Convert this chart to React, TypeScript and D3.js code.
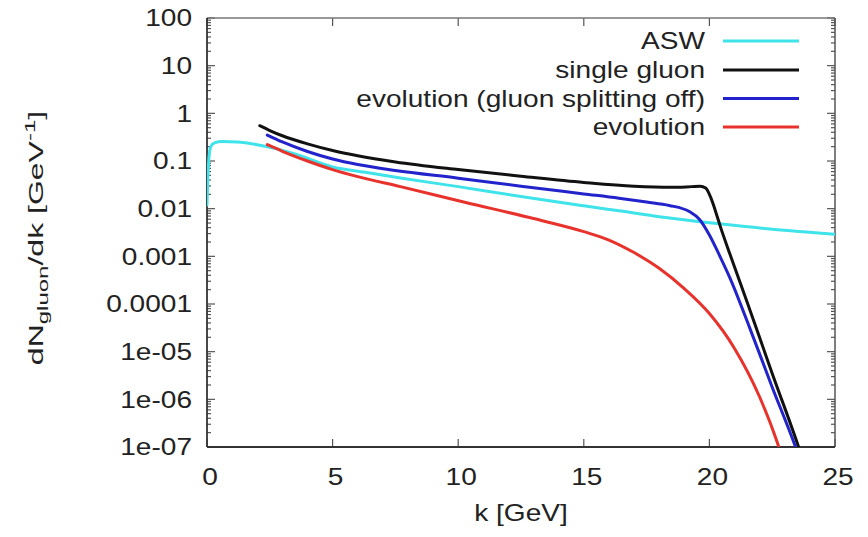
import React from "react";
import * as d3 from "d3";

// values (k in GeV, dN/dk in 1/GeV)
const kASW = [0, 0.03, 0.08, 0.15, 0.3, 0.6, 1.2, 2, 2.6, 3.5, 5, 6.3, 7.7, 10, 12.5, 15, 16.4, 18, 20.4, 22.5, 25];
const vASW = [0.012, 0.04, 0.12, 0.2, 0.24, 0.255, 0.25, 0.22, 0.19, 0.14, 0.075, 0.058, 0.044, 0.029, 0.018, 0.0115, 0.009, 0.0068, 0.0048, 0.0037, 0.0029];

const kSingle = [2.1, 2.5, 3, 4, 5, 6, 7.5, 10, 12.5, 15, 17, 18.5, 19.3, 19.63, 19.85, 20, 20.15, 20.3, 20.45, 20.82, 21.5, 22.5, 23.55, 23.8];
const vSingle = [0.55, 0.436, 0.339, 0.229, 0.166, 0.129, 0.0955, 0.066, 0.048, 0.0355, 0.0295, 0.028, 0.029, 0.0295, 0.027, 0.02, 0.0126, 0.0071, 0.004, 0.0011, 1.1e-4, 3.5e-6, 1e-7, 4e-8];

const kNoSplit = [2.4, 3, 4, 5, 6, 7.5, 10, 12.5, 15, 16.4, 17.5, 18.4, 19.2, 19.6, 20, 20.4, 20.82, 21.6, 22.5, 23.4, 23.6];
const vNoSplit = [0.35, 0.251, 0.158, 0.11, 0.0841, 0.0631, 0.0437, 0.0295, 0.0204, 0.0166, 0.0138, 0.0117, 0.0087, 0.006, 0.0028, 0.00105, 3.5e-4, 3.2e-5, 1.8e-6, 1.1e-7, 5.6e-8];

const kEvol = [2.4, 3, 4, 5, 6, 7.7, 10.3, 13, 15, 16, 17, 18, 19, 20, 21, 22, 22.7, 22.9];
const vEvol = [0.22, 0.16, 0.1, 0.066, 0.047, 0.029, 0.0135, 0.0062, 0.0033, 0.0022, 0.0012, 5.6e-4, 2.1e-4, 6.3e-5, 1.17e-5, 1.12e-6, 1.26e-7, 6e-8];

const seriesNames = ["ASW", "single gluon", "evolution (gluon splitting off)", "evolution"];
const seriesColors = ["#3fe3ea", "#111111", "#2323cc", "#e8322c"];

const xTicks = [0, 5, 10, 15, 20, 25];
const yTicks = [100, 10, 1, 0.1, 0.01, 0.001, 0.0001, 1e-5, 1e-6, 1e-7];
const yTickLabels = ["100", "10", "1", "0.1", "0.01", "0.001", "0.0001", "1e-05", "1e-06", "1e-07"];

const W = 868;
const H = 537;
const left = 207, right = 835, top = 18, bottom = 447;
const font = "'Liberation Sans', Arial, Helvetica, sans-serif";
const sx = 1.22; // the reference text is drawn a bit wide

export default function App() {
  const x = d3.scaleLinear().domain([0, 25]).range([left, right]);
  const y = d3.scaleLog().domain([1e-7, 100]).range([bottom, top]);

  const series = [
    kASW.map((k, i) => [k, vASW[i]]),
    kSingle.map((k, i) => [k, vSingle[i]]),
    kNoSplit.map((k, i) => [k, vNoSplit[i]]),
    kEvol.map((k, i) => [k, vEvol[i]]),
  ];

  const line = d3.line<number[]>()
    .x(d => x(d[0]))
    .y(d => y(d[1]))
    .curve(d3.curveMonotoneX);

  // minor ticks 2..9 in each decade
  const minor: number[] = [];
  for (let e = -7; e < 2; e++) {
    for (let m = 2; m <= 9; m++) minor.push(m * Math.pow(10, e));
  }

  const legendY = [41, 70, 98.5, 127];

  return (
    <svg width={W} height={H} style={{ position: "absolute", left: 0, top: 0, background: "#fff" }}
      fontFamily={font}>
      <defs>
        <clipPath id="plot">
          <rect x={left} y={top} width={right - left} height={bottom - top} />
        </clipPath>
      </defs>
      <rect width={W} height={H} fill="#fff" />

      {/* ticks */}
      <g stroke="#555" strokeWidth={1.2}>
        {xTicks.map(t => (
          <g key={"xt" + t}>
            <line x1={x(t)} x2={x(t)} y1={bottom} y2={bottom - 8} />
            <line x1={x(t)} x2={x(t)} y1={top} y2={top + 8} />
          </g>
        ))}
        {yTicks.map(t => (
          <g key={"yt" + t}>
            <line x1={left} x2={left + 8} y1={y(t)} y2={y(t)} />
            <line x1={right} x2={right - 8} y1={y(t)} y2={y(t)} />
          </g>
        ))}
        {minor.map(t => (
          <g key={"ym" + t}>
            <line x1={left} x2={left + 4} y1={y(t)} y2={y(t)} />
            <line x1={right} x2={right - 4} y1={y(t)} y2={y(t)} />
          </g>
        ))}
      </g>

      {/* frame */}
      <line x1={left} x2={right} y1={top} y2={top} stroke="#777" strokeWidth={1.5} />
      <line x1={right} x2={right} y1={top} y2={bottom} stroke="#555" strokeWidth={1.5} />
      <line x1={left} x2={left} y1={top} y2={bottom} stroke="#333" strokeWidth={1.8} />
      <line x1={left} x2={right} y1={bottom} y2={bottom} stroke="#333" strokeWidth={1.8} />

      {/* curves */}
      <g clipPath="url(#plot)" fill="none" strokeWidth={3} strokeLinejoin="round" strokeLinecap="round">
        {series.map((s, i) => (
          <path key={seriesNames[i]} d={line(s) || ""} stroke={seriesColors[i]} />
        ))}
      </g>

      {/* tick labels */}
      <g fontSize={23} fill="#222">
        {yTicks.map((t, i) => (
          <text key={"yl" + t} transform={`translate(192,${y(t)}) scale(${sx},1)`}
            textAnchor="end" dy="0.36em">{yTickLabels[i]}</text>
        ))}
        {xTicks.map(t => (
          <text key={"xl" + t} transform={`translate(${x(t) + 3},485) scale(${sx},1)`}
            textAnchor="middle">{t}</text>
        ))}
        <text transform={`translate(${(left + right) / 2},521) scale(${sx},1)`} textAnchor="middle">k [GeV]</text>
      </g>

      {/* y label */}
      <text transform="translate(43,238) rotate(-90) scale(1.6,1)" textAnchor="middle" fontSize={20} fill="#222">
        dN<tspan fontSize={15} dy={5}>gluon</tspan><tspan dy={-5}>/dk [GeV</tspan>
        <tspan fontSize={15} dy={-8}>-1</tspan><tspan dy={8}>]</tspan>
      </text>

      {/* legend */}
      <g fontSize={23} fill="#222">
        {seriesNames.map((n, i) => (
          <g key={"lg" + n}>
            <text transform={`translate(705,${legendY[i]}) scale(${sx},1)`} textAnchor="end" dy="0.36em">{n}</text>
            <line x1={723} x2={799} y1={legendY[i]} y2={legendY[i]} stroke={seriesColors[i]} strokeWidth={3} />
          </g>
        ))}
      </g>
    </svg>
  );
}
